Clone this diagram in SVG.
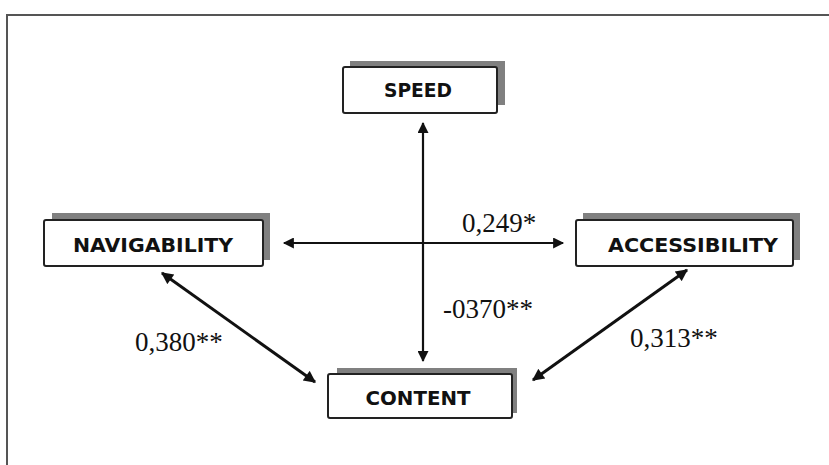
<svg xmlns="http://www.w3.org/2000/svg" width="829" height="465" viewBox="0 0 829 465">
<style>
.shadow{fill:#808080;}
.box{fill:#fff;stroke:#222;stroke-width:2;}
.lbl{font-family:"DejaVu Sans",Verdana,sans-serif;font-weight:bold;font-size:20px;fill:#111;text-anchor:middle;}
.num{font-family:"Liberation Serif","Times New Roman",serif;font-size:27px;fill:#111;}
.conn{stroke:#111;fill:none;}
</style>
<defs>
<marker id="ah" viewBox="0 0 10 10" refX="9" refY="5" markerWidth="13" markerHeight="11" markerUnits="userSpaceOnUse" orient="auto-start-reverse">
<path d="M0,0 L10,5 L0,10 Z" fill="#111"/>
</marker>
<marker id="ah2" viewBox="0 0 10 10" refX="9" refY="5" markerWidth="14" markerHeight="12" markerUnits="userSpaceOnUse" orient="auto-start-reverse">
<path d="M0,0 L10,5 L0,10 Z" fill="#111"/>
</marker>
</defs>
<rect x="7" y="15" width="900" height="500" fill="none" stroke="#555" stroke-width="2"/>
<g id="connectors">
<line class="conn" x1="423" y1="123" x2="423" y2="361" stroke-width="2.2" marker-start="url(#ah)" marker-end="url(#ah)"/>
<line class="conn" x1="284" y1="243" x2="563" y2="243" stroke-width="2.2" marker-start="url(#ah)" marker-end="url(#ah)"/>
<line class="conn" x1="162" y1="273" x2="315" y2="382" stroke-width="3" marker-start="url(#ah2)" marker-end="url(#ah2)"/>
<line class="conn" x1="687" y1="270" x2="533" y2="380" stroke-width="3" marker-start="url(#ah2)" marker-end="url(#ah2)"/>
<text class="num" x="462" y="232">0,249*</text>
<text class="num" x="443" y="318">-0370**</text>
<text class="num" x="135" y="351">0,380**</text>
<text class="num" x="630" y="347">0,313**</text>
</g>
<g id="speed">
<rect class="shadow" x="350" y="61" width="155" height="44"/>
<rect class="box" x="343" y="67" width="154" height="46" rx="2"/>
<text class="lbl" x="418" y="97" textLength="68" lengthAdjust="spacingAndGlyphs">SPEED</text>
</g>
<g id="navigability">
<rect class="shadow" x="52" y="213" width="218" height="47"/>
<rect class="box" x="44" y="220" width="219" height="46" rx="2"/>
<text class="lbl" x="153" y="252" textLength="160" lengthAdjust="spacingAndGlyphs">NAVIGABILITY</text>
</g>
<g id="accessibility">
<rect class="shadow" x="583" y="213" width="217" height="47"/>
<rect class="box" x="576" y="220" width="217" height="46" rx="2"/>
<text class="lbl" x="693" y="252" textLength="170" lengthAdjust="spacingAndGlyphs">ACCESSIBILITY</text>
</g>
<g id="content">
<rect class="shadow" x="337" y="368" width="180" height="45"/>
<rect class="box" x="328" y="374" width="184" height="44" rx="2"/>
<text class="lbl" x="418" y="405" textLength="105" lengthAdjust="spacingAndGlyphs">CONTENT</text>
</g>
</svg>
